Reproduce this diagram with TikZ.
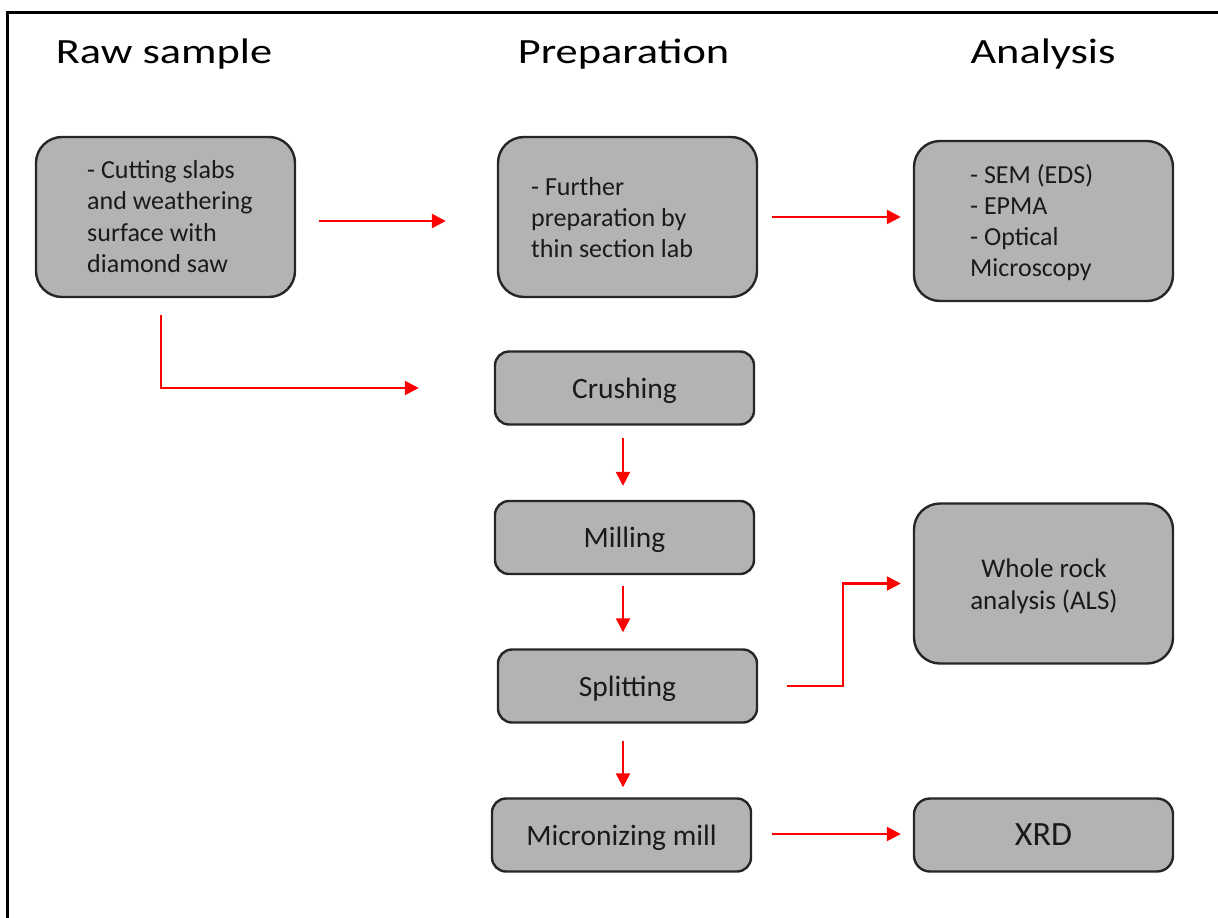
\documentclass[tikz,border=0pt]{standalone}
\usepackage{fontspec}
\setmainfont{Carlito}
\newfontfamily\headfont{Carlito}[FakeStretch=1.25]
\usetikzlibrary{arrows.meta}
\definecolor{boxfill}{HTML}{B3B3B3}
\definecolor{boxline}{HTML}{262626}
\definecolor{txt}{HTML}{1A1A1A}
\definecolor{arrred}{HTML}{FF0000}
\tikzset{
  bigbox/.style={draw=boxline, fill=boxfill, line width=2.4pt, rounded corners=26pt,
    minimum width=259pt, minimum height=160pt, inner sep=0pt, text=txt},
  smallbox/.style={draw=boxline, fill=boxfill, line width=2.4pt, rounded corners=14pt,
    minimum width=259pt, minimum height=73pt, inner sep=0pt, text=txt, text depth=0pt,
    font=\fontsize{29.5}{35}\selectfont},
  boxtext/.style={inner sep=0pt, align=left, text=txt, font=\fontsize{26}{31.2}\selectfont},
  heading/.style={inner sep=0pt, anchor=base, text=black, font=\headfont\fontsize{35.5}{42}\selectfont},
  arr/.style={draw=arrred, line width=2.5pt, -{Triangle[length=14pt,width=14pt]}},
}
\begin{document}
\begin{tikzpicture}[x=1pt, y=-1pt]
\useasboundingbox (0,0) rectangle (1218,918);
\clip (0,0) rectangle (1218,918);
\draw[line width=3pt, black] (7.5,930) -- (7.5,12.5) -- (1230,12.5);

% headings
\node[heading] (h1) at (164,63) {Raw sample};
\node[heading] (h2) at (623.5,63) {Preparation};
\node[heading] (h3) at (1043,63) {Analysis};

% boxes
\node[bigbox] (raw) at (165.5,217) {};
\node[boxtext, anchor=west] (rawt) at (87,216.5) {- Cutting slabs\\and weathering\\surface with\\diamond saw};

\node[bigbox] (prep) at (627.5,217) {};
\node[boxtext, anchor=west] (prept) at (531,217.5) {- Further\\preparation by\\thin section lab};

\node[bigbox] (sem) at (1043.5,221) {};
\node[boxtext, anchor=west] (semt) at (970,222.5) {- SEM (EDS)\\- EPMA\\- Optical\\Microscopy};

\node[smallbox] (crush) at (624.5,388) {Crushing};
\node[smallbox] (mill) at (624.5,537.5) {Milling};
\node[smallbox] (split) at (627.5,686) {Splitting};
\node[smallbox] (micro) at (621.5,835) {Micronizing mill};

\node[bigbox] (whole) at (1043.5,583.5) {};
\node[boxtext, align=center, font=\fontsize{27}{32}\selectfont] (wholet) at (1044,586.5) {Whole rock\\analysis (ALS)};
\node[smallbox, rounded corners=16pt, font=\fontsize{34}{40}\selectfont] (xrd) at (1043.5,835) {XRD};

\coordinate (bend) at (843,686);

% connectors
\draw[arr, shorten <=23pt, shorten >=51pt] ([yshift=-4pt]raw.east) -- ([yshift=-4pt]prep.west);
\draw[arr, shorten <=14pt, shorten >=12pt] (prep.east) -- (prep.east -| sem.west);
\draw[arr, shorten <=17pt, shorten >=75pt] ([xshift=-4.5pt]raw.south) |- (crush.west);
\draw[arr, shorten <=12pt, shorten >=14pt] ([xshift=-1.5pt]crush.south) -- ([xshift=-1.5pt]mill.north);
\draw[arr, shorten <=11pt, shorten >=16pt] ([xshift=-1.5pt]mill.south) -- ([xshift=-1.5pt]mill.south |- split.north);
\draw[arr, shorten <=17pt, shorten >=10pt] ([xshift=-4.5pt]split.south) -- ([xshift=-4.5pt]split.south |- micro.north);
\draw[arr, shorten <=29pt, shorten >=12pt] (split.east) -- (bend) |- (whole.west);
\draw[arr, shorten <=20pt, shorten >=12pt] ([yshift=1pt]micro.east) -- ([yshift=1pt]micro.east -| xrd.west);
\end{tikzpicture}
\end{document}
